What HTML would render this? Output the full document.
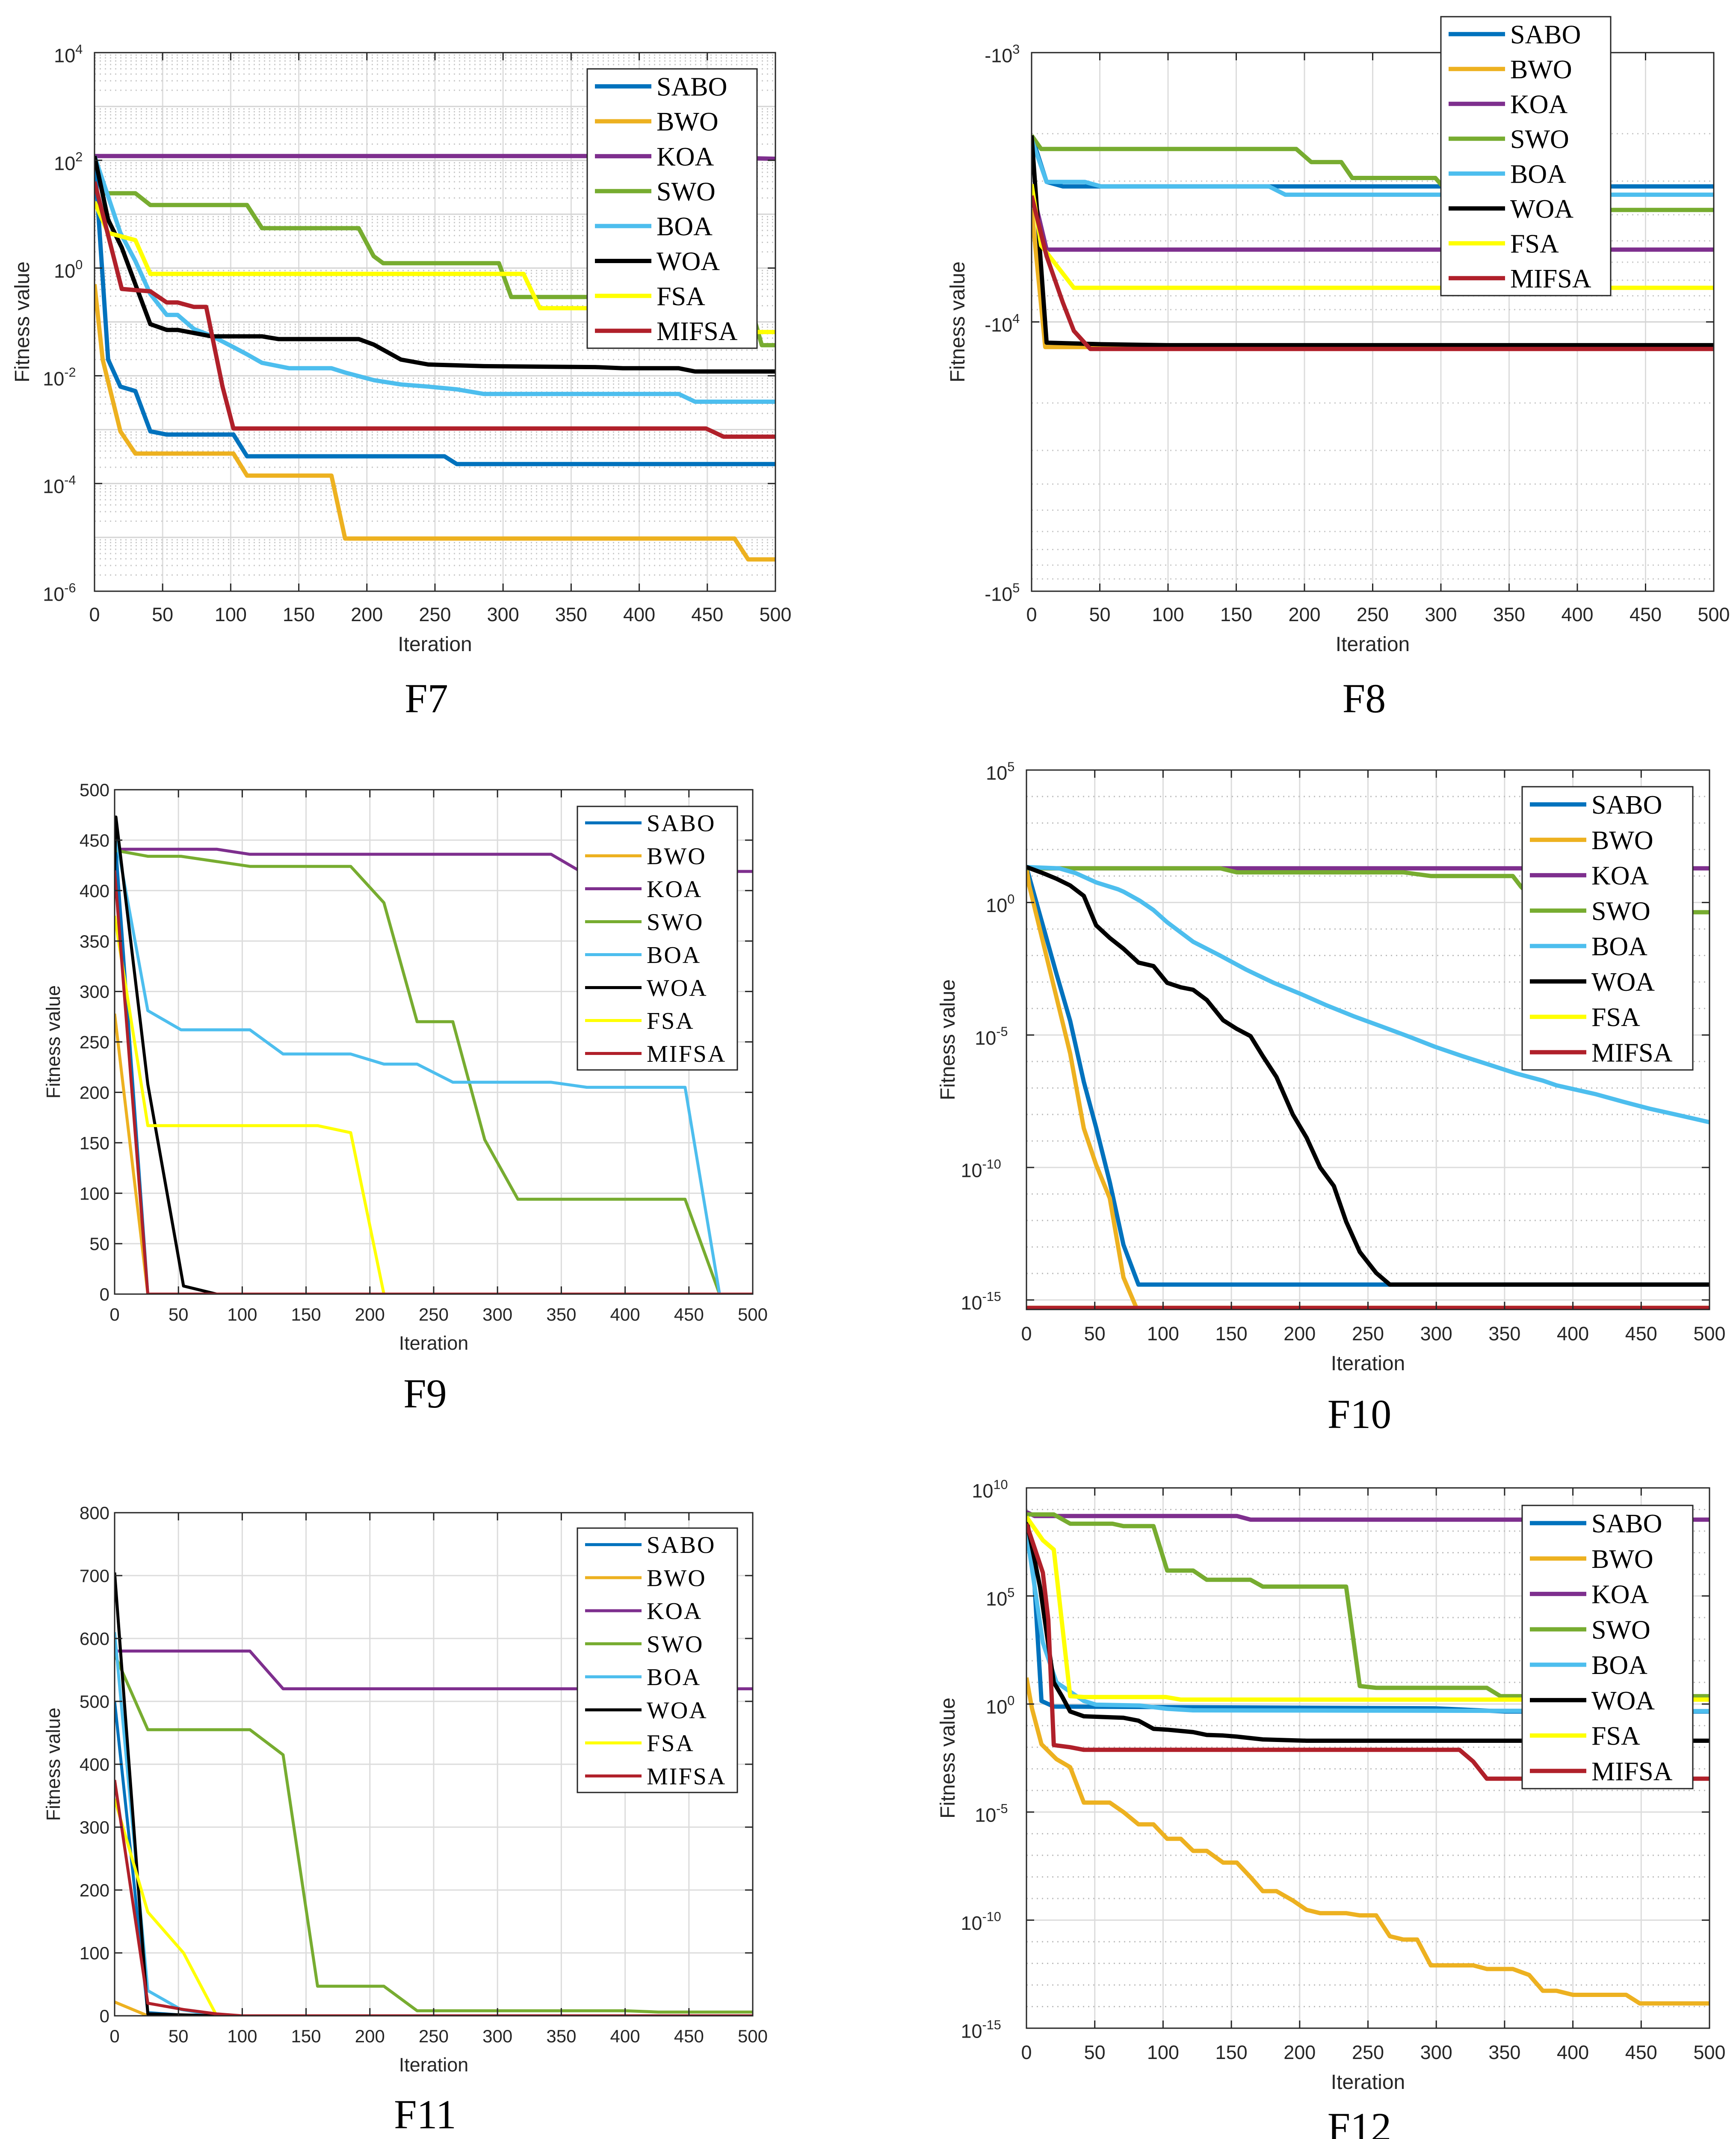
<!DOCTYPE html>
<html><head><meta charset="utf-8">
<style>
html,body{margin:0;padding:0;background:#fff;overflow:hidden;width:4059px;height:5049px;}
svg{display:block;position:absolute;left:0;top:0;}
</style></head>
<body>
<svg id="fig" xmlns="http://www.w3.org/2000/svg" width="4059" height="5049" viewBox="0 0 4059 5049">
<rect width="4059" height="5049" fill="#fff"/>
</svg>
<script>
// ---------- F7 data ----------
const f7_sabo_it=[0,10,19,30,41,53,102,112,257,266,500];
const f7_sabo_v=[120,0.02,6.3e-3,5.2e-3,9.3e-4,8.1e-4,8.1e-4,3.2e-4,3.2e-4,2.3e-4,2.3e-4];
const f7_bwo_it=[0,6,19,30,102,112,174,184,470,480,500];
const f7_bwo_v=[0.5,0.02,9.3e-4,3.6e-4,3.6e-4,1.4e-4,1.4e-4,9.5e-6,9.5e-6,3.9e-6,3.9e-6];
const f7_koa_it=[0,400,500];
const f7_koa_v=[120,120,107];
const f7_swo_it=[0,7,30,41,112,123,194,205,212,297,306,480,490,500];
const f7_swo_v=[120,24.5,24.5,14.8,14.8,5.5,5.5,1.66,1.23,1.23,0.29,0.29,0.037,0.037];
const f7_boa_it=[0,19,30,41,53,61,73,86,102,112,123,143,174,184,205,225,245,266,286,429,441,500];
const f7_boa_v=[120,4.5,1.35,0.33,0.135,0.135,0.074,0.055,0.034,0.025,0.0174,0.0138,0.0138,0.0115,0.0083,0.0069,0.0063,0.0056,0.0046,0.0046,0.0033,0.0033];
const f7_woa_it=[0,10,20,30,41,53,61,86,123,135,194,205,225,245,286,368,388,429,441,500];
const f7_woa_v=[120,7.9,2.4,0.5,0.091,0.071,0.071,0.054,0.054,0.048,0.048,0.038,0.02,0.0162,0.0151,0.0145,0.0138,0.0138,0.012,0.012];
const f7_fsa_it=[0,10,30,41,315,327,470,480,500];
const f7_fsa_v=[17,4.5,3.3,0.78,0.78,0.18,0.18,0.065,0.065];
const f7_mifsa_it=[0,20,30,41,53,61,73,82,94,102,449,462,500];
const f7_mifsa_v=[40,0.41,0.39,0.37,0.23,0.23,0.19,0.19,0.0063,0.00105,0.00105,0.00074,0.00074];
const f7_yticks=[4,2,0,-2,-4,-6];
// ---------- F8 data ----------
const f8_sabo_it=[0,11,23,500];
const f8_sabo_v=[-2030,-3020,-3140,-3140];
const f8_bwo_it=[0,10,500];
const f8_bwo_v=[-3800,-12400,-12400];
const f8_koa_it=[0,11,500];
const f8_koa_v=[-3150,-5390,-5390];
const f8_swo_it=[0,7,194,205,227,235,296,305,400,410,500];
const f8_swo_v=[-2030,-2280,-2280,-2550,-2550,-2920,-2920,-3300,-3300,-3840,-3840];
const f8_boa_it=[0,11,39,51,174,186,500];
const f8_boa_v=[-2100,-3020,-3020,-3140,-3140,-3370,-3370];
const f8_woa_it=[0,11,51,100,500];
const f8_woa_v=[-2030,-11940,-12100,-12200,-12200];
const f8_fsa_it=[0,7,31,500];
const f8_fsa_v=[-3080,-5200,-7470,-7470];
const f8_mifsa_it=[0,11,23,31,43,500];
const f8_mifsa_v=[-3400,-5700,-8500,-10800,-12600,-12600];
const f8_yticks=[3,4,5];
// ---------- F9 data ----------
const f9_sabo_it=[0,26,500];
const f9_sabo_v=[460,0,0];
const f9_bwo_it=[0,26,500];
const f9_bwo_v=[278,0,0];
const f9_koa_it=[0,80,106,342,365,500];
const f9_koa_v=[441,441,436,436,419,419];
const f9_swo_it=[0,26,52,106,185,211,237,265,290,316,447,474,500];
const f9_swo_v=[440,434,434,424,424,388,270,270,153,94,94,0,0];
const f9_boa_it=[0,26,52,106,132,185,211,237,265,342,370,447,474,500];
const f9_boa_v=[460,281,262,262,238,238,228,228,210,210,205,205,0,0];
const f9_woa_it=[0,1,26,54,80,500];
const f9_woa_v=[420,473,208,8,0,0];
const f9_fsa_it=[0,26,159,185,211,500];
const f9_fsa_v=[375,167,167,160,0,0];
const f9_mifsa_it=[0,26,500];
const f9_mifsa_v=[420,0,0];
const f9_yticks=[0,50,100,150,200,250,300,350,400,450,500];
// ---------- F10 data ----------
const f10_sabo_it=[0,12,22,32,42,51,61,71,82,500];
const f10_sabo_v=[21.9,0.138,2e-3,3.4e-5,1.7e-7,3.2e-9,2.8e-11,1.2e-13,3.8e-15,3.8e-15];
const f10_bwo_it=[0,2,12,22,32,42,51,61,71,83];
const f10_bwo_v=[21.9,4.4,0.034,2.6e-4,2e-6,3e-9,1.26e-10,6.9e-12,7.1e-15,2.5e-16];
const f10_koa_it=[0,500];
const f10_koa_v=[19.5,19.5];
const f10_swo_it=[0,142,154,276,296,356,362,380,500];
const f10_swo_v=[19.5,19.5,13.8,13.8,10,10,4,0.43,0.43];
const f10_boa_it=[0,24,36,51,67,71,83,93,103,122,142,161,181,201,220,240,260,279,299,319,338,358,378,388,417,437,456,476,500];
const f10_boa_v=[21.9,19.5,12.9,5.75,3.16,2.57,1.17,0.52,0.18,0.033,9.8e-3,2.9e-3,9.3e-4,3.5e-4,1.3e-4,5.0e-5,2.1e-5,9.1e-6,3.6e-6,1.6e-6,7.8e-7,3.6e-7,1.9e-7,1.26e-7,5.8e-8,3.0e-8,1.66e-8,9.8e-9,5.1e-9];
const f10_woa_it=[0,12,22,32,42,51,61,71,82,93,103,113,122,132,144,154,164,173,183,195,205,215,225,234,244,256,266,500];
const f10_woa_v=[21.9,12.9,7.9,4.4,1.78,0.138,0.046,0.018,5.4e-3,4.0e-3,9.3e-4,6.3e-4,5.1e-4,2.1e-4,3.6e-5,1.7e-5,9.1e-6,1.6e-6,2.6e-7,1e-8,1.35e-9,1e-10,2e-11,9.1e-13,6.5e-14,1.05e-14,3.8e-15,3.8e-15];
const f10_fsa_it=[0,500];
const f10_fsa_v=[5e-16,5e-16];
const f10_mifsa_it=[0,500];
const f10_mifsa_v=[5e-16,5e-16];
const f10_yticks=[5,0,-5,-10,-15];
// ---------- F11 data ----------
const f11_sabo_it=[0,26,60,500];
const f11_sabo_v=[500,5,0,0];
const f11_bwo_it=[0,26,500];
const f11_bwo_v=[22,0,0];
const f11_koa_it=[0,106,132,500];
const f11_koa_v=[580,580,520,520];
const f11_swo_it=[0,26,106,132,159,211,237,400,426,500];
const f11_swo_v=[575,455,455,415,47,47,8,8,6,6];
const f11_boa_it=[0,26,52,80,500];
const f11_boa_v=[610,40,10,0,0];
const f11_woa_it=[0,26,80,500];
const f11_woa_v=[705,3,0,0];
const f11_fsa_it=[0,26,54,80,500];
const f11_fsa_v=[345,165,100,0,0];
const f11_mifsa_it=[0,26,54,80,100,500];
const f11_mifsa_v=[375,20,10,3,0,0];
const f11_yticks=[0,100,200,300,400,500,600,700,800];
// ---------- F12 data ----------
const f12_sabo_it=[0,6,11,20,299,351,500];
const f12_sabo_v=[4.6e8,2.5e5,1.38,0.76,0.63,0.45,0.45];
const f12_bwo_it=[0,4,11,22,32,42,61,71,82,93,103,113,122,132,144,154,164,173,183,195,205,215,234,244,256,266,276,286,296,327,337,356,368,378,388,400,439,449,500];
const f12_bwo_v=[16.6,0.63,0.0138,2.8e-3,1.2e-3,2.75e-5,2.75e-5,1.0e-5,2.7e-6,2.7e-6,5.8e-7,5.8e-7,1.6e-7,1.6e-7,4.6e-8,4.6e-8,9.8e-9,2.2e-9,2.2e-9,8.1e-10,3.0e-10,2.1e-10,2.1e-10,1.66e-10,1.66e-10,1.8e-11,1.26e-11,1.26e-11,8.1e-13,8.1e-13,5.5e-13,5.5e-13,2.9e-13,5.4e-14,5.4e-14,3.5e-14,3.5e-14,1.4e-14,1.4e-14];
const f12_koa_it=[0,6,154,164,500];
const f12_koa_v=[7.6e8,5e8,5e8,3.4e8,3.4e8];
const f12_swo_it=[0,20,32,63,71,93,103,122,132,164,173,234,244,256,337,347,500];
const f12_swo_v=[5.9e8,5.9e8,2.2e8,2.2e8,1.7e8,1.7e8,1.5e6,1.5e6,5.6e5,5.6e5,2.7e5,2.7e5,6.8,5.6,5.6,2.3,2.3];
const f12_boa_it=[0,12,22,32,42,51,83,103,122,500];
const f12_boa_v=[1e8,690,10,3.7,1.38,0.93,0.85,0.6,0.51,0.47];
const f12_woa_it=[0,10,20,26,32,42,71,82,93,103,122,132,144,154,173,205,500];
const f12_woa_v=[3.5e8,2.5e5,10,2.3,0.45,0.27,0.23,0.17,0.071,0.065,0.05,0.037,0.035,0.031,0.023,0.02,0.02];
const f12_fsa_it=[0,12,20,32,42,102,113,500];
const f12_fsa_v=[4.6e8,3.8e7,1.4e7,2.3,2.1,2.1,1.6,1.6];
const f12_mifsa_it=[0,12,16,20,32,42,317,327,337,500];
const f12_mifsa_v=[2.2e8,1.2e6,8000,0.0126,0.01,7.6e-3,7.6e-3,2.2e-3,3.5e-4,3.5e-4];
const f12_yticks=[10,5,0,-5,-10,-15];
// ---------- shared ----------
const seriesNames=['SABO','BWO','KOA','SWO','BOA','WOA','FSA','MIFSA'];
const xticks=[0,50,100,150,200,250,300,350,400,450,500];
const COLORS={SABO:'#0072BD',BWO:'#EDB120',KOA:'#7E2F8E',SWO:'#77AC30',BOA:'#4DBEEE',WOA:'#000000',FSA:'#FFFF00',MIFSA:'#B0202A'};

const NS='http://www.w3.org/2000/svg';
const svg=document.getElementById('fig');
function mk(tag,attrs,parent){const e=document.createElementNS(NS,tag);for(const k in attrs)e.setAttribute(k,attrs[k]);(parent||svg).appendChild(e);return e;}

function panel(cfg,data){
  const g=mk('g',{});
  
  
  const L=cfg.x0,R=cfg.x1,T=cfg.y0,B=cfg.y1,W=R-L,H=B-T;
  const xs=i=>L+i/500*W;
  let ys;
  if(cfg.type==='lin') ys=v=>B-(v-cfg.min)/(cfg.max-cfg.min)*H;
  else if(cfg.type==='log') ys=v=>T+(cfg.max-Math.log10(v))/(cfg.max-cfg.min)*H;
  else ys=v=>T+(Math.log10(-v)-cfg.min)/(cfg.max-cfg.min)*H;
  const grid=mk('g',{},g);
  
  
  xticks.forEach(t=>{if(t>0&&t<500)mk('line',{x1:xs(t),x2:xs(t),y1:T,y2:B,stroke:'#dcdcdc','stroke-width':3},grid);});
  if(cfg.type==='lin'){
    cfg.yticks.forEach(t=>mk('line',{x1:L,x2:R,y1:ys(t),y2:ys(t),stroke:'#dcdcdc','stroke-width':3},grid));
  } else if(cfg.minorSub){
    const lo=Math.floor(Math.min(cfg.min,cfg.max)),hi=Math.ceil(Math.max(cfg.min,cfg.max));
    for(let d=lo;d<hi;d++){
      for(let k=1;k<10;k++){
        const e=d+Math.log10(k);
        if(e<Math.min(cfg.min,cfg.max)-1e-9||e>Math.max(cfg.min,cfg.max)+1e-9)continue;
        const y=cfg.type==='log'?T+(cfg.max-e)/(cfg.max-cfg.min)*H:T+(e-cfg.min)/(cfg.max-cfg.min)*H;
        if(k===1) mk('line',{x1:L,x2:R,y1:y,y2:y,stroke:'#d4d4d4','stroke-width':3},grid);
        else mk('line',{x1:L,x2:R,y1:y,y2:y,stroke:'#c8c8c8','stroke-width':3,'stroke-dasharray':'3 9'},grid);
      }
    }
  } else {
    for(let d=Math.ceil(cfg.min);d<=Math.floor(cfg.max);d++){
      const y=T+(cfg.max-d)/(cfg.max-cfg.min)*H;
      if(d%5===0) mk('line',{x1:L,x2:R,y1:y,y2:y,stroke:'#dcdcdc','stroke-width':3},grid);
      else mk('line',{x1:L,x2:R,y1:y,y2:y,stroke:'#bdbdbd','stroke-width':3,'stroke-dasharray':'3 9'},grid);
    }
  }
  const cid='clip-'+cfg.id;
  const cp=mk('clipPath',{id:cid},g);mk('rect',{x:L,y:T,width:W,height:H},cp);
  const sg=mk('g',{'clip-path':'url(#'+cid+')'},g);
  
  
  seriesNames.forEach(n=>{
    const it=data[n][0],v=data[n][1];
    const pts=it.map((i,k)=>xs(i).toFixed(1)+','+ys(v[k]).toFixed(1)).join(' ');
    const pl=mk('polyline',{points:pts,fill:'none',stroke:COLORS[n],'stroke-width':cfg.lw,'stroke-linejoin':'round'},sg);
    
    
  });
  const ax=mk('g',{},g);
  
  
  mk('rect',{x:L,y:T,width:W,height:H,fill:'none',stroke:'#262626','stroke-width':3},ax);
  const tl=18;
  xticks.forEach(t=>{
    const x=xs(t);
    mk('line',{x1:x,x2:x,y1:B,y2:B-tl,stroke:'#262626','stroke-width':3},ax);
    mk('line',{x1:x,x2:x,y1:T,y2:T+tl,stroke:'#262626','stroke-width':3},ax);
    const tx=mk('text',{x:x,y:B+cfg.xtOff,'text-anchor':'middle','font-size':cfg.fs,fill:'#262626'},ax);
    tx.textContent=t;
    
    
  });
  cfg.yticks.forEach(t=>{
    let y;
    if(cfg.type==='lin')y=ys(t);else if(cfg.type==='log')y=T+(cfg.max-t)/(cfg.max-cfg.min)*H;else y=T+(t-cfg.min)/(cfg.max-cfg.min)*H;
    mk('line',{x1:L,x2:L+tl,y1:y,y2:y,stroke:'#262626','stroke-width':3},ax);
    mk('line',{x1:R,x2:R-tl,y1:y,y2:y,stroke:'#262626','stroke-width':3},ax);
    const tx=mk('text',{x:L-12,y:y+cfg.fs*0.36,'text-anchor':'end','font-size':cfg.fs,fill:'#262626'},ax);
    
    
    if(cfg.type==='lin'){tx.textContent=t;}
    else{
      const base=mk('tspan',{},tx);base.textContent=(cfg.type==='neglog'?'-':'')+'10';
      const sup=mk('tspan',{dy:-cfg.fs*0.45,'font-size':cfg.fs*0.68},tx);sup.textContent=t;
      tx.setAttribute('x',L-12-cfg.fs*0.35*String(t).length);
      tx.setAttribute('y',y+cfg.fs*0.5);
    }
  });
  const xl=mk('text',{x:(L+R)/2,y:B+cfg.xlOff,'text-anchor':'middle','font-size':cfg.fs+3,fill:'#262626'},g);
  xl.textContent='Iteration';
  
  
  const yl=mk('text',{x:0,y:0,'text-anchor':'middle','font-size':cfg.fs+3,fill:'#262626',transform:'translate('+cfg.ylX+','+(T+B)/2+') rotate(-90)'},g);
  yl.textContent='Fitness value';
  
  
  const pt=mk('text',{x:(L+R)/2-20,y:cfg.titleY,'text-anchor':'middle','font-size':96,'font-family':'Liberation Serif, serif',fill:'#000'},g);
  pt.textContent=cfg.id.toUpperCase();
  
  
  const lg=mk('g',{},g);
  
  
  const lb=cfg.leg;
  mk('rect',{x:lb[0],y:lb[1],width:lb[2]-lb[0],height:lb[3]-lb[1],fill:'#fff',stroke:'#262626','stroke-width':3},lg);
  const rh=(lb[3]-lb[1])/8;
  seriesNames.forEach((n,k)=>{
    const cy=lb[1]+rh*(k+0.5);
    const e=mk('g',{},lg);
    
    
    mk('line',{x1:lb[0]+18,x2:lb[0]+150,y1:cy,y2:cy,stroke:COLORS[n],'stroke-width':cfg.lw},e);
    const t=mk('text',{x:lb[0]+162,y:cy+cfg.lfs*0.35,'font-size':cfg.lfs,'font-family':'Liberation Serif, serif',fill:'#000','letter-spacing':cfg.lls},e);
    t.textContent=n;
  });
}
svg.setAttribute('font-family','Liberation Sans, Arial, sans-serif');

function pack(p){return {SABO:[p.sabo_it,p.sabo_v],BWO:[p.bwo_it,p.bwo_v],KOA:[p.koa_it,p.koa_v],SWO:[p.swo_it,p.swo_v],BOA:[p.boa_it,p.boa_v],WOA:[p.woa_it,p.woa_v],FSA:[p.fsa_it,p.fsa_v],MIFSA:[p.mifsa_it,p.mifsa_v]};}

panel({id:'f7',x0:221,x1:1813,y0:123,y1:1382,type:'log',min:-6,max:4,minorSub:true,yticks:f7_yticks,lw:10,fs:45,xtOff:70,xlOff:140,ylX:68,titleY:1665,leg:[1373,161,1770,814],lfs:62,lls:0},
 pack({sabo_it:f7_sabo_it,sabo_v:f7_sabo_v,bwo_it:f7_bwo_it,bwo_v:f7_bwo_v,koa_it:f7_koa_it,koa_v:f7_koa_v,swo_it:f7_swo_it,swo_v:f7_swo_v,boa_it:f7_boa_it,boa_v:f7_boa_v,woa_it:f7_woa_it,woa_v:f7_woa_v,fsa_it:f7_fsa_it,fsa_v:f7_fsa_v,mifsa_it:f7_mifsa_it,mifsa_v:f7_mifsa_v}));
panel({id:'f8',x0:2412,x1:4007,y0:123,y1:1382,type:'neglog',min:3,max:5,minorSub:true,yticks:f8_yticks,lw:10,fs:45,xtOff:70,xlOff:140,ylX:2255,titleY:1665,leg:[3369,39,3766,691],lfs:62,lls:0},
 pack({sabo_it:f8_sabo_it,sabo_v:f8_sabo_v,bwo_it:f8_bwo_it,bwo_v:f8_bwo_v,koa_it:f8_koa_it,koa_v:f8_koa_v,swo_it:f8_swo_it,swo_v:f8_swo_v,boa_it:f8_boa_it,boa_v:f8_boa_v,woa_it:f8_woa_it,woa_v:f8_woa_v,fsa_it:f8_fsa_it,fsa_v:f8_fsa_v,mifsa_it:f8_mifsa_it,mifsa_v:f8_mifsa_v}));
panel({id:'f9',x0:268,x1:1760,y0:1846,y1:3025,type:'lin',min:0,max:500,yticks:f9_yticks,lw:7,fs:42,xtOff:62,xlOff:130,ylX:140,titleY:3290,leg:[1350,1885,1724,2501],lfs:56,lls:3},
 pack({sabo_it:f9_sabo_it,sabo_v:f9_sabo_v,bwo_it:f9_bwo_it,bwo_v:f9_bwo_v,koa_it:f9_koa_it,koa_v:f9_koa_v,swo_it:f9_swo_it,swo_v:f9_swo_v,boa_it:f9_boa_it,boa_v:f9_boa_v,woa_it:f9_woa_it,woa_v:f9_woa_v,fsa_it:f9_fsa_it,fsa_v:f9_fsa_v,mifsa_it:f9_mifsa_it,mifsa_v:f9_mifsa_v}));
panel({id:'f10',x0:2400,x1:3997,y0:1800,y1:3061,type:'log',min:-15.36,max:5,yticks:f10_yticks,lw:10,fs:45,xtOff:72,xlOff:142,ylX:2232,titleY:3338,leg:[3559,1839,3958,2501],lfs:62,lls:0},
 pack({sabo_it:f10_sabo_it,sabo_v:f10_sabo_v,bwo_it:f10_bwo_it,bwo_v:f10_bwo_v,koa_it:f10_koa_it,koa_v:f10_koa_v,swo_it:f10_swo_it,swo_v:f10_swo_v,boa_it:f10_boa_it,boa_v:f10_boa_v,woa_it:f10_woa_it,woa_v:f10_woa_v,fsa_it:f10_fsa_it,fsa_v:f10_fsa_v,mifsa_it:f10_mifsa_it,mifsa_v:f10_mifsa_v}));
panel({id:'f11',x0:268,x1:1760,y0:3536,y1:4712,type:'lin',min:0,max:800,yticks:f11_yticks,lw:7,fs:42,xtOff:62,xlOff:130,ylX:140,titleY:4975,leg:[1350,3572,1724,4190],lfs:56,lls:3},
 pack({sabo_it:f11_sabo_it,sabo_v:f11_sabo_v,bwo_it:f11_bwo_it,bwo_v:f11_bwo_v,koa_it:f11_koa_it,koa_v:f11_koa_v,swo_it:f11_swo_it,swo_v:f11_swo_v,boa_it:f11_boa_it,boa_v:f11_boa_v,woa_it:f11_woa_it,woa_v:f11_woa_v,fsa_it:f11_fsa_it,fsa_v:f11_fsa_v,mifsa_it:f11_mifsa_it,mifsa_v:f11_mifsa_v}));
panel({id:'f12',x0:2400,x1:3997,y0:3478,y1:4741,type:'log',min:-15,max:10,yticks:f12_yticks,lw:10,fs:45,xtOff:72,xlOff:142,ylX:2232,titleY:5005,leg:[3559,3519,3958,4181],lfs:62,lls:0},
 pack({sabo_it:f12_sabo_it,sabo_v:f12_sabo_v,bwo_it:f12_bwo_it,bwo_v:f12_bwo_v,koa_it:f12_koa_it,koa_v:f12_koa_v,swo_it:f12_swo_it,swo_v:f12_swo_v,boa_it:f12_boa_it,boa_v:f12_boa_v,woa_it:f12_woa_it,woa_v:f12_woa_v,fsa_it:f12_fsa_it,fsa_v:f12_fsa_v,mifsa_it:f12_mifsa_it,mifsa_v:f12_mifsa_v}));
</script>
</body></html>
